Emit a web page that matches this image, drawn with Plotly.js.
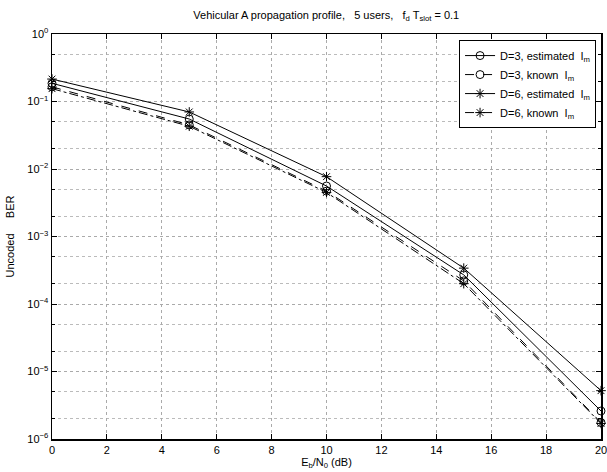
<!DOCTYPE html>
<html>
<head>
<meta charset="utf-8">
<script src="https://cdn.plot.ly/plotly-3.0.1.min.js"></script>
<style>html,body{margin:0;padding:0;background:#fff;}#chart{width:607px;height:472px;}</style>
</head>
<body>
<div id="chart"></div>
<script>
// Eb/N0 (dB)
const ebno = [0, 5, 10, 15, 20];
// Uncoded BER values
const d3Estimated = [0.186, 0.055, 0.0056, 2.7e-4, 2.6e-6];
const d3Known     = [0.165, 0.045, 0.0047, 2.2e-4, 1.75e-6];
const d6Estimated = [0.215, 0.070, 0.0077, 3.4e-4, 5.2e-6];
const d6Known     = [0.155, 0.043, 0.0045, 2.0e-4, 1.7e-6];
const seriesNames = [
  'D=3, estimated  I<sub>m</sub>',
  'D=3, known  I<sub>m</sub>',
  'D=6, estimated  I<sub>m</sub>',
  'D=6, known  I<sub>m</sub>'
];
const yTickVals = [1e-6, 1e-5, 1e-4, 1e-3, 1e-2, 1e-1, 1];
const yTickText = ['10<sup>\u22126</sup>', '10<sup>\u22125</sup>', '10<sup>\u22124</sup>', '10<sup>\u22123</sup>',
                   '10<sup>\u22122</sup>', '10<sup>\u22121</sup>', '10<sup>0</sup>'];
const xTickVals = [0, 2, 4, 6, 8, 10, 12, 14, 16, 18, 20];

const font = 'Liberation Sans, Arial, Helvetica, sans-serif';
function tr(y, name, dash, symbol) {
  return {
    x: ebno, y: y, name: name, type: 'scatter', mode: 'lines+markers',
    line: {color: '#000', width: 1, dash: dash},
    marker: {symbol: symbol, size: 8, color: '#000', line: {color: '#000', width: 1}},
    cliponaxis: false
  };
}
const data = [
  tr(d3Estimated, seriesNames[0], 'solid', 'circle-open'),
  tr(d3Known, seriesNames[1], 'dash', 'circle-open'),
  tr(d6Estimated, seriesNames[2], 'solid', 'asterisk-open'),
  tr(d6Known, seriesNames[3], 'dashdot', 'asterisk-open')
];
const layout = {
  width: 607, height: 472,
  margin: {l: 52, r: 6, t: 34, b: 33},
  paper_bgcolor: '#fff', plot_bgcolor: '#fff',
  font: {family: font, size: 11, color: '#000'},
  title: {text: 'Vehicular A propagation profile,   5 users,   f<sub>d</sub> T<sub>slot</sub> = 0.1',
          x: 0.5375, xanchor: 'center', y: 0.968, yanchor: 'middle', font: {size: 11}},
  xaxis: {
    range: [0, 20], tickvals: xTickVals, ticks: 'inside', ticklen: 5, tickcolor: '#000',
    ticklabeloverflow: 'allow',
    showline: true, linecolor: '#000', linewidth: 1.5, mirror: 'ticks',
    showgrid: true, gridcolor: '#aaa', griddash: 'dot', gridwidth: 1, zeroline: false,
    title: {text: 'E<sub>b</sub>/N<sub>0</sub> (dB)', standoff: 2, font: {size: 11}},
    tickfont: {size: 11}
  },
  yaxis: {
    type: 'log', range: [-6, 0], tickvals: yTickVals, ticktext: yTickText,
    ticks: 'inside', ticklen: 5, tickcolor: '#000', ticklabeloverflow: 'allow',
    showline: true, linecolor: '#000', linewidth: 1.5, mirror: 'ticks',
    showgrid: true, gridcolor: '#aaa', griddash: 'dot', gridwidth: 1, zeroline: false,
    minor: {dtick: 'D2', ticks: 'inside', ticklen: 3, tickcolor: '#000', showgrid: true, gridcolor: '#bbb', griddash: 'dot', gridwidth: 1},
    title: {text: 'Uncoded     BER', standoff: 10, font: {size: 11}},
    tickfont: {size: 11}
  },
  showlegend: true,
  legend: {
    x: 0.991, xanchor: 'right', y: 0.985, yanchor: 'top',
    bgcolor: '#fff', bordercolor: '#000', borderwidth: 1,
    font: {size: 11}, tracegroupgap: 0, itemwidth: 30
  }
};
Plotly.newPlot('chart', data, layout, {displayModeBar: false, staticPlot: true});
</script>
</body>
</html>
